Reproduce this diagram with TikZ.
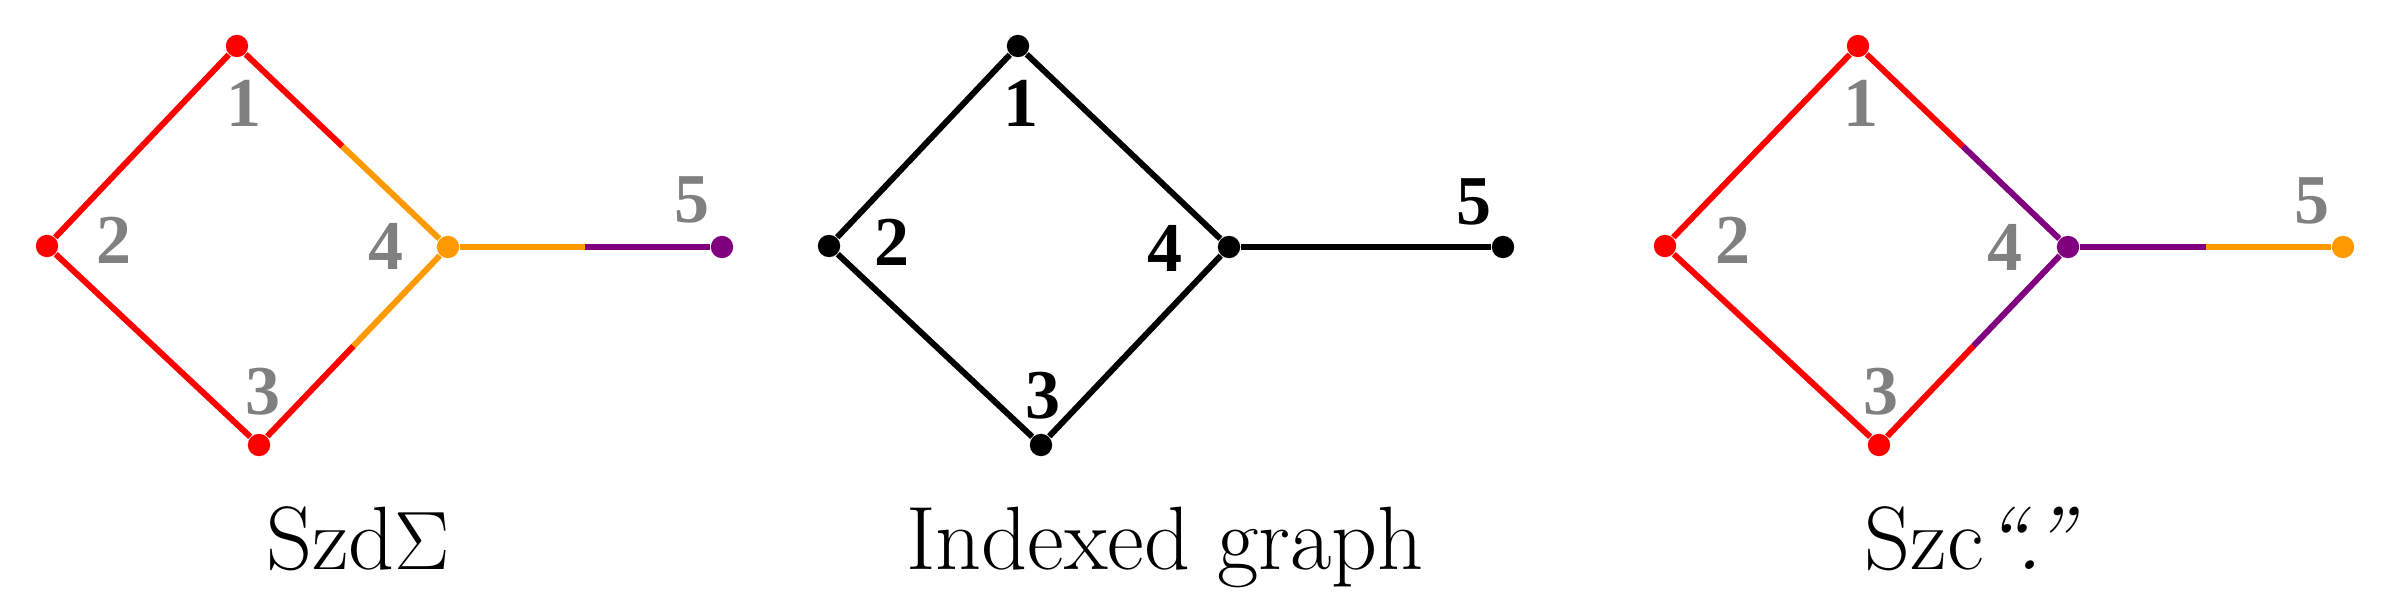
\documentclass[tikz,border=0pt]{standalone}
\usepackage{fontspec}
\usetikzlibrary{calc}
\newfontfamily\lblfont{Liberation Serif}
\definecolor{cred}{RGB}{255,0,0}
\definecolor{corange}{RGB}{255,153,0}
\definecolor{cpurple}{RGB}{128,0,128}
\definecolor{cgray}{RGB}{128,128,128}
\begin{document}
\begin{tikzpicture}[x=0.25pt,y=-0.25pt,
  dot/.style={circle,inner sep=0pt,minimum size=5.6pt,fill=#1},
  edge/.style={line width=1.5pt,draw=#1},
  lbl/.style={text=#1,font=\lblfont\bfseries\fontsize{17.5}{20}\selectfont,inner sep=0pt},
  captext/.style={font=\fontsize{22.5}{26}\selectfont,anchor=base,inner sep=0pt}]
\useasboundingbox (0,0) rectangle (2392,610);
% ---------- left graph
\node[dot=cred] (a1) at (237,46) {};
\node[dot=cred] (a2) at (47,246) {};
\node[dot=cred] (a3) at (259,445) {};
\node[dot=corange] (a4) at (448,247) {};
\node[dot=cpurple] (a5) at (722,247) {};
\coordinate (a12) at ($(a1)!0.5!(a2)$);
\coordinate (a14) at ($(a1)!0.5!(a4)$);
\coordinate (a23) at ($(a2)!0.5!(a3)$);
\coordinate (a34) at ($(a3)!0.5!(a4)$);
\coordinate (a45) at ($(a4)!0.5!(a5)$);
\draw[edge=cred] (a1) -- (a12);
\draw[edge=cred] (a12) -- (a2);
\draw[edge=cred] (a1) -- (a14);
\draw[edge=corange] (a14) -- (a4);
\draw[edge=cred] (a2) -- (a23);
\draw[edge=cred] (a23) -- (a3);
\draw[edge=cred] (a3) -- (a34);
\draw[edge=corange] (a34) -- (a4);
\draw[edge=corange] (a4) -- (a45);
\draw[edge=cpurple] (a45) -- (a5);
\node[lbl=cgray] (la1) at (244,103) {1};
\node[lbl=cgray] (la2) at (114,240) {2};
\node[lbl=cgray] (la3) at (263,392) {3};
\node[lbl=cgray] (la4) at (386,246) {4};
\node[lbl=cgray] (la5) at (692,200) {5};
\node[captext] (ca) at (358,569) {Szd$\Sigma$};
% ---------- middle graph
\node[dot=black] (b1) at (1018,46) {};
\node[dot=black] (b2) at (829,246) {};
\node[dot=black] (b3) at (1041,445) {};
\node[dot=black] (b4) at (1229,247) {};
\node[dot=black] (b5) at (1503,247) {};
\draw[edge=black] (b1) -- (b2);
\draw[edge=black] (b1) -- (b4);
\draw[edge=black] (b2) -- (b3);
\draw[edge=black] (b3) -- (b4);
\draw[edge=black] (b4) -- (b5);
\node[lbl=black] (lb1) at (1021,103) {1};
\node[lbl=black] (lb2) at (892,242) {2};
\node[lbl=black] (lb3) at (1043,396) {3};
\node[lbl=black] (lb4) at (1165,248) {4};
\node[lbl=black] (lb5) at (1474,202) {5};
\node[captext] (cb) at (1165,569) {Indexed graph};
% ---------- right graph
\node[dot=cred] (c1) at (1858,46) {};
\node[dot=cred] (c2) at (1665,246) {};
\node[dot=cred] (c3) at (1879,445) {};
\node[dot=cpurple] (c4) at (2068,247) {};
\node[dot=corange] (c5) at (2343,247) {};
\coordinate (c12) at ($(c1)!0.5!(c2)$);
\coordinate (c14) at ($(c1)!0.5!(c4)$);
\coordinate (c23) at ($(c2)!0.5!(c3)$);
\coordinate (c34) at ($(c3)!0.5!(c4)$);
\coordinate (c45) at ($(c4)!0.5!(c5)$);
\draw[edge=cred] (c1) -- (c12);
\draw[edge=cred] (c12) -- (c2);
\draw[edge=cred] (c1) -- (c14);
\draw[edge=cpurple] (c14) -- (c4);
\draw[edge=cred] (c2) -- (c23);
\draw[edge=cred] (c23) -- (c3);
\draw[edge=cred] (c3) -- (c34);
\draw[edge=cpurple] (c34) -- (c4);
\draw[edge=cpurple] (c4) -- (c45);
\draw[edge=corange] (c45) -- (c5);
\node[lbl=cgray] (lc1) at (1861,103) {1};
\node[lbl=cgray] (lc2) at (1733,240) {2};
\node[lbl=cgray] (lc3) at (1881,392) {3};
\node[lbl=cgray] (lc4) at (2005,247) {4};
\node[lbl=cgray] (lc5) at (2312,201) {5};
\node[captext] (cc) at (1972,569) {Szc\textit{``.''}};
\end{tikzpicture}
\end{document}
